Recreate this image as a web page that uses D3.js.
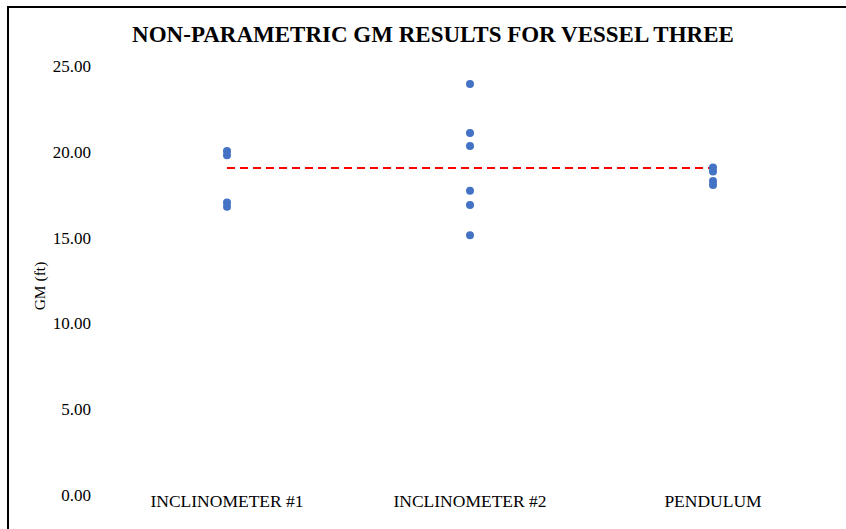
<!DOCTYPE html>
<html>
<head>
<meta charset="utf-8">
<script src="https://cdn.jsdelivr.net/npm/d3@7"></script>
<style>
  body { margin: 0; background: #fff; }
  text { font-family: "Liberation Serif", "Times New Roman", serif; fill: #000; }
</style>
</head>
<body>
<div id="chart"></div>
<script>
var w = 846;
var h = 529;

// data
var categories = ['INCLINOMETER #1', 'INCLINOMETER #2', 'PENDULUM'];
var incl1 = [20.05, 19.8, 17.05, 16.8];
var incl2 = [23.95, 21.1, 20.34, 17.73, 16.9, 15.13];
var pendulum = [19.08, 18.85, 18.3, 18.07];
var meanGM = [19.06, 19.06, 19.06];
var yTicks = [0, 5, 10, 15, 20, 25];

var svg = d3.select('#chart')
            .append('svg')
            .attr('width', w)
            .attr('height', h);

// outer frame
svg.append('rect')
   .attr('x', 8)
   .attr('y', 7)
   .attr('width', w + 10)
   .attr('height', h + 10)
   .style('fill', 'none')
   .style('stroke', '#000')
   .style('stroke-width', 2);

var x = d3.scaleBand()
          .domain(categories)
          .range([105.5, 834.5]);

var y = d3.scaleLinear()
          .domain([0, 25])
          .range([495, 66]);

svg.append('text')
   .attr('x', 433)
   .attr('y', 42)
   .attr('text-anchor', 'middle')
   .style('font-size', '23px')
   .style('font-weight', 'bold')
   .text('NON-PARAMETRIC GM RESULTS FOR VESSEL THREE');

// y axis (labels only)
var yAxis = d3.axisLeft(y)
              .tickValues(yTicks)
              .tickFormat(d3.format('.2f'))
              .tickSize(0)
              .tickPadding(0);

var yg = svg.append('g')
            .attr('transform', 'translate(91,0)')
            .call(yAxis);
yg.select('.domain').remove();
yg.selectAll('text')
  .style('font-size', '17px')
  .style('font-family', '"Liberation Serif", serif');

svg.append('text')
   .attr('transform', 'translate(45,' + 286 + ') rotate(-90)')
   .attr('text-anchor', 'middle')
   .style('font-size', '15.5px')
   .text('GM (ft)');

// x axis (labels only)
var xAxis = d3.axisBottom(x).tickSize(0).tickPadding(0);
var xg = svg.append('g')
            .attr('transform', 'translate(0,495)')
            .call(xAxis);
xg.select('.domain').remove();
xg.selectAll('text')
  .style('font-size', '17.5px')
  .style('font-family', '"Liberation Serif", serif');

// mean line
var line = d3.line()
             .x(function(d, i) { return x(categories[i]) + x.bandwidth() / 2; })
             .y(function(d) { return y(d); });

svg.append('path')
   .datum(meanGM)
   .attr('d', line)
   .style('fill', 'none')
   .style('stroke', '#ff0000')
   .style('stroke-width', 2)
   .style('stroke-dasharray', '8,5');

// points
var series = [incl1, incl2, pendulum];
var points = [];
series.forEach(function(vals, i) {
    vals.forEach(function(v) { points.push({cat: categories[i], v: v}); });
});

svg.append('g')
   .selectAll('circle')
   .data(points)
   .enter()
   .append('circle')
   .attr('cx', function(d) { return x(d.cat) + x.bandwidth() / 2; })
   .attr('cy', function(d) { return y(d.v); })
   .attr('r', 4)
   .style('fill', '#4472c4');
</script>
</body>
</html>
